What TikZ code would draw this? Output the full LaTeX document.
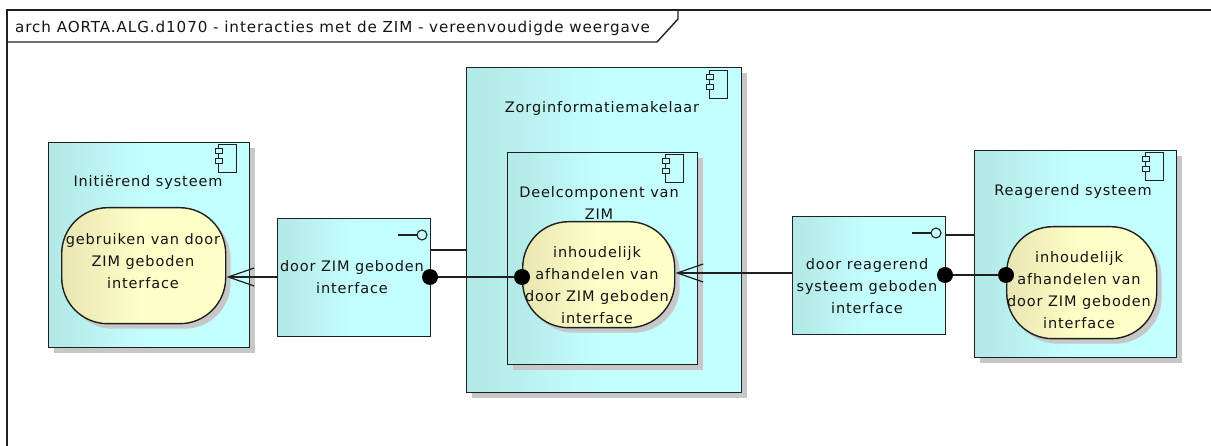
\documentclass[tikz,border=0pt]{standalone}
\usepackage{fontspec}
\setmainfont[LetterSpace=6]{DejaVu Sans}
\usetikzlibrary{arrows.meta,shadows}
\definecolor{compdark}{HTML}{B2E8E6}
\definecolor{compfill}{HTML}{C4FFFF}
\definecolor{funcdark}{HTML}{E8E6B2}
\definecolor{funcfill}{HTML}{FFFFC8}
\definecolor{framedark}{HTML}{202020}
\pgfdeclarehorizontalshading{compshade}{100bp}{color(0bp)=(compdark); color(25bp)=(compdark); color(50bp)=(compfill); color(100bp)=(compfill)}
\pgfdeclarehorizontalshading{funcshade}{100bp}{color(0bp)=(funcdark); color(25bp)=(funcdark); color(50bp)=(funcfill); color(100bp)=(funcfill)}
\tikzset{
	shadowed/.style={drop shadow={shadow xshift=5pt, shadow yshift=-5pt, fill=black!22, opacity=1}},
	compbox/.style={shadowed, draw=framedark, line width=1.4pt, shading=compshade, anchor=north west, inner sep=0pt},
	ifacebox/.style={draw=framedark, line width=1.4pt, shading=compshade, anchor=north west, inner sep=0pt},
	funcbox/.style={shadowed, draw=framedark, line width=1.4pt, shading=funcshade, anchor=north west, inner sep=0pt, rounded corners=46pt},
	lbl/.style={align=center, inner sep=0pt, text=black!92, font=\fontsize{14.5}{22}\selectfont},
	dot/.style={circle, fill=black, inner sep=0pt, minimum size=16pt},
	link/.style={draw=framedark, line width=1.3pt},
	barb/.style={link, -{Straight Barb[length=26pt, width=18pt, line width=1.2pt]}},
	pics/compicon/.style={code={
		\draw[draw=framedark, line width=1pt] (-18,0) rectangle (0,28);
		\draw[draw=framedark, line width=1pt, fill=compfill] (-21,4) rectangle (-14,9);
		\draw[draw=framedark, line width=1pt, fill=compfill] (-21,14) rectangle (-14,19);
	}},
	pics/lollipop/.style={code={
		\draw[draw=framedark, line width=1.1pt] (-24,0) -- (-5,0);
		\draw[draw=framedark, line width=1.1pt, fill=compfill] (0,0) circle (5pt);
	}},
}
\begin{document}
\begin{tikzpicture}[x=1pt, y=-1pt]
	\useasboundingbox (0,0) rectangle (1211,446);
	% kader
	\draw[draw=framedark, line width=1.4pt] (7,446) -- (7,10) -- (1211,10);
	\draw[draw=framedark, line width=1.4pt] (7,42) -- (657,42) -- (678,19) -- (678,10);
	\node[lbl, anchor=west, font=\fontsize{15.15}{22}\selectfont] (title) at (15,28) {arch AORTA.ALG.d1070 - interacties met de ZIM - vereenvoudigde weergave};

	% componenten
	\node[compbox, minimum width=201pt, minimum height=205pt] (init) at (48,142) {};
	\pic at (236,145) {compicon};
	\node[lbl] (initlbl) at (148,183) {Initiërend systeem};
	\node[funcbox, minimum width=164pt, minimum height=116pt] (usezim) at (61,207) {};
	\node[lbl] (usezimlbl) at (143,261) {gebruiken van door\\ZIM geboden\\interface};

	\node[compbox, minimum width=275pt, minimum height=325pt] (zorg) at (466,67) {};
	\pic at (727,71) {compicon};
	\node[lbl] (zorglbl) at (602,109) {Zorginformatiemakelaar};
	\node[compbox, minimum width=190pt, minimum height=212pt] (deel) at (507,152) {};
	\pic at (683,155) {compicon};
	\node[lbl] (deellbl) at (599,203) {Deelcomponent van\\ZIM};
	\node[funcbox, minimum width=152pt, minimum height=106pt] (handle) at (522,221) {};
	\node[lbl] (handlelbl) at (597,285) {inhoudelijk\\afhandelen van\\door ZIM geboden\\interface};

	\node[compbox, minimum width=202pt, minimum height=207pt] (reag) at (974,150) {};
	\pic at (1163,153) {compicon};
	\node[lbl] (reaglbl) at (1073,192) {Reagerend systeem};
	\node[funcbox, minimum width=150pt, minimum height=112pt] (reply) at (1006,226) {};
	\node[lbl] (replylbl) at (1079,290) {inhoudelijk\\afhandelen van\\door ZIM geboden\\interface};

	% interfaces
	\node[ifacebox, minimum width=153pt, minimum height=118pt] (ifzim) at (277,218) {};
	\pic at (422,235) {lollipop};
	\node[lbl] (ifzimlbl) at (352,277) {door ZIM geboden\\interface};
	\node[ifacebox, minimum width=153pt, minimum height=118pt] (ifreag) at (792,216) {};
	\pic at (936,233) {lollipop};
	\node[lbl] (ifreaglbl) at (867,286) {door reagerend\\systeem geboden\\interface};

	% verbindingen
	\coordinate (realzim) at (448,250);
	\coordinate (realreag) at (960,235);
	\coordinate (usearrow) at (250,277);
	\coordinate (handlearrow) at (730,273);
	\draw[link] (ifzim.east |- realzim) -- (zorg.west |- realzim);
	\draw[link] (ifreag.east |- realreag) -- (reag.west |- realreag);
	\draw[barb] (ifzim.west |- usearrow) -- (usezim.east |- usearrow);
	\draw[barb] (ifreag.west |- handlearrow) -- (handle.east |- handlearrow);
	\node[dot] (dotzimout) at (430,277) {};
	\node[dot] (dotzimin) at (522,277) {};
	\node[dot] (dotreagout) at (945,275) {};
	\node[dot] (dotreagin) at (1006,275) {};
	\draw[link] (dotzimout) -- (dotzimin);
	\draw[link] (dotreagout) -- (dotreagin);
\end{tikzpicture}
\end{document}
